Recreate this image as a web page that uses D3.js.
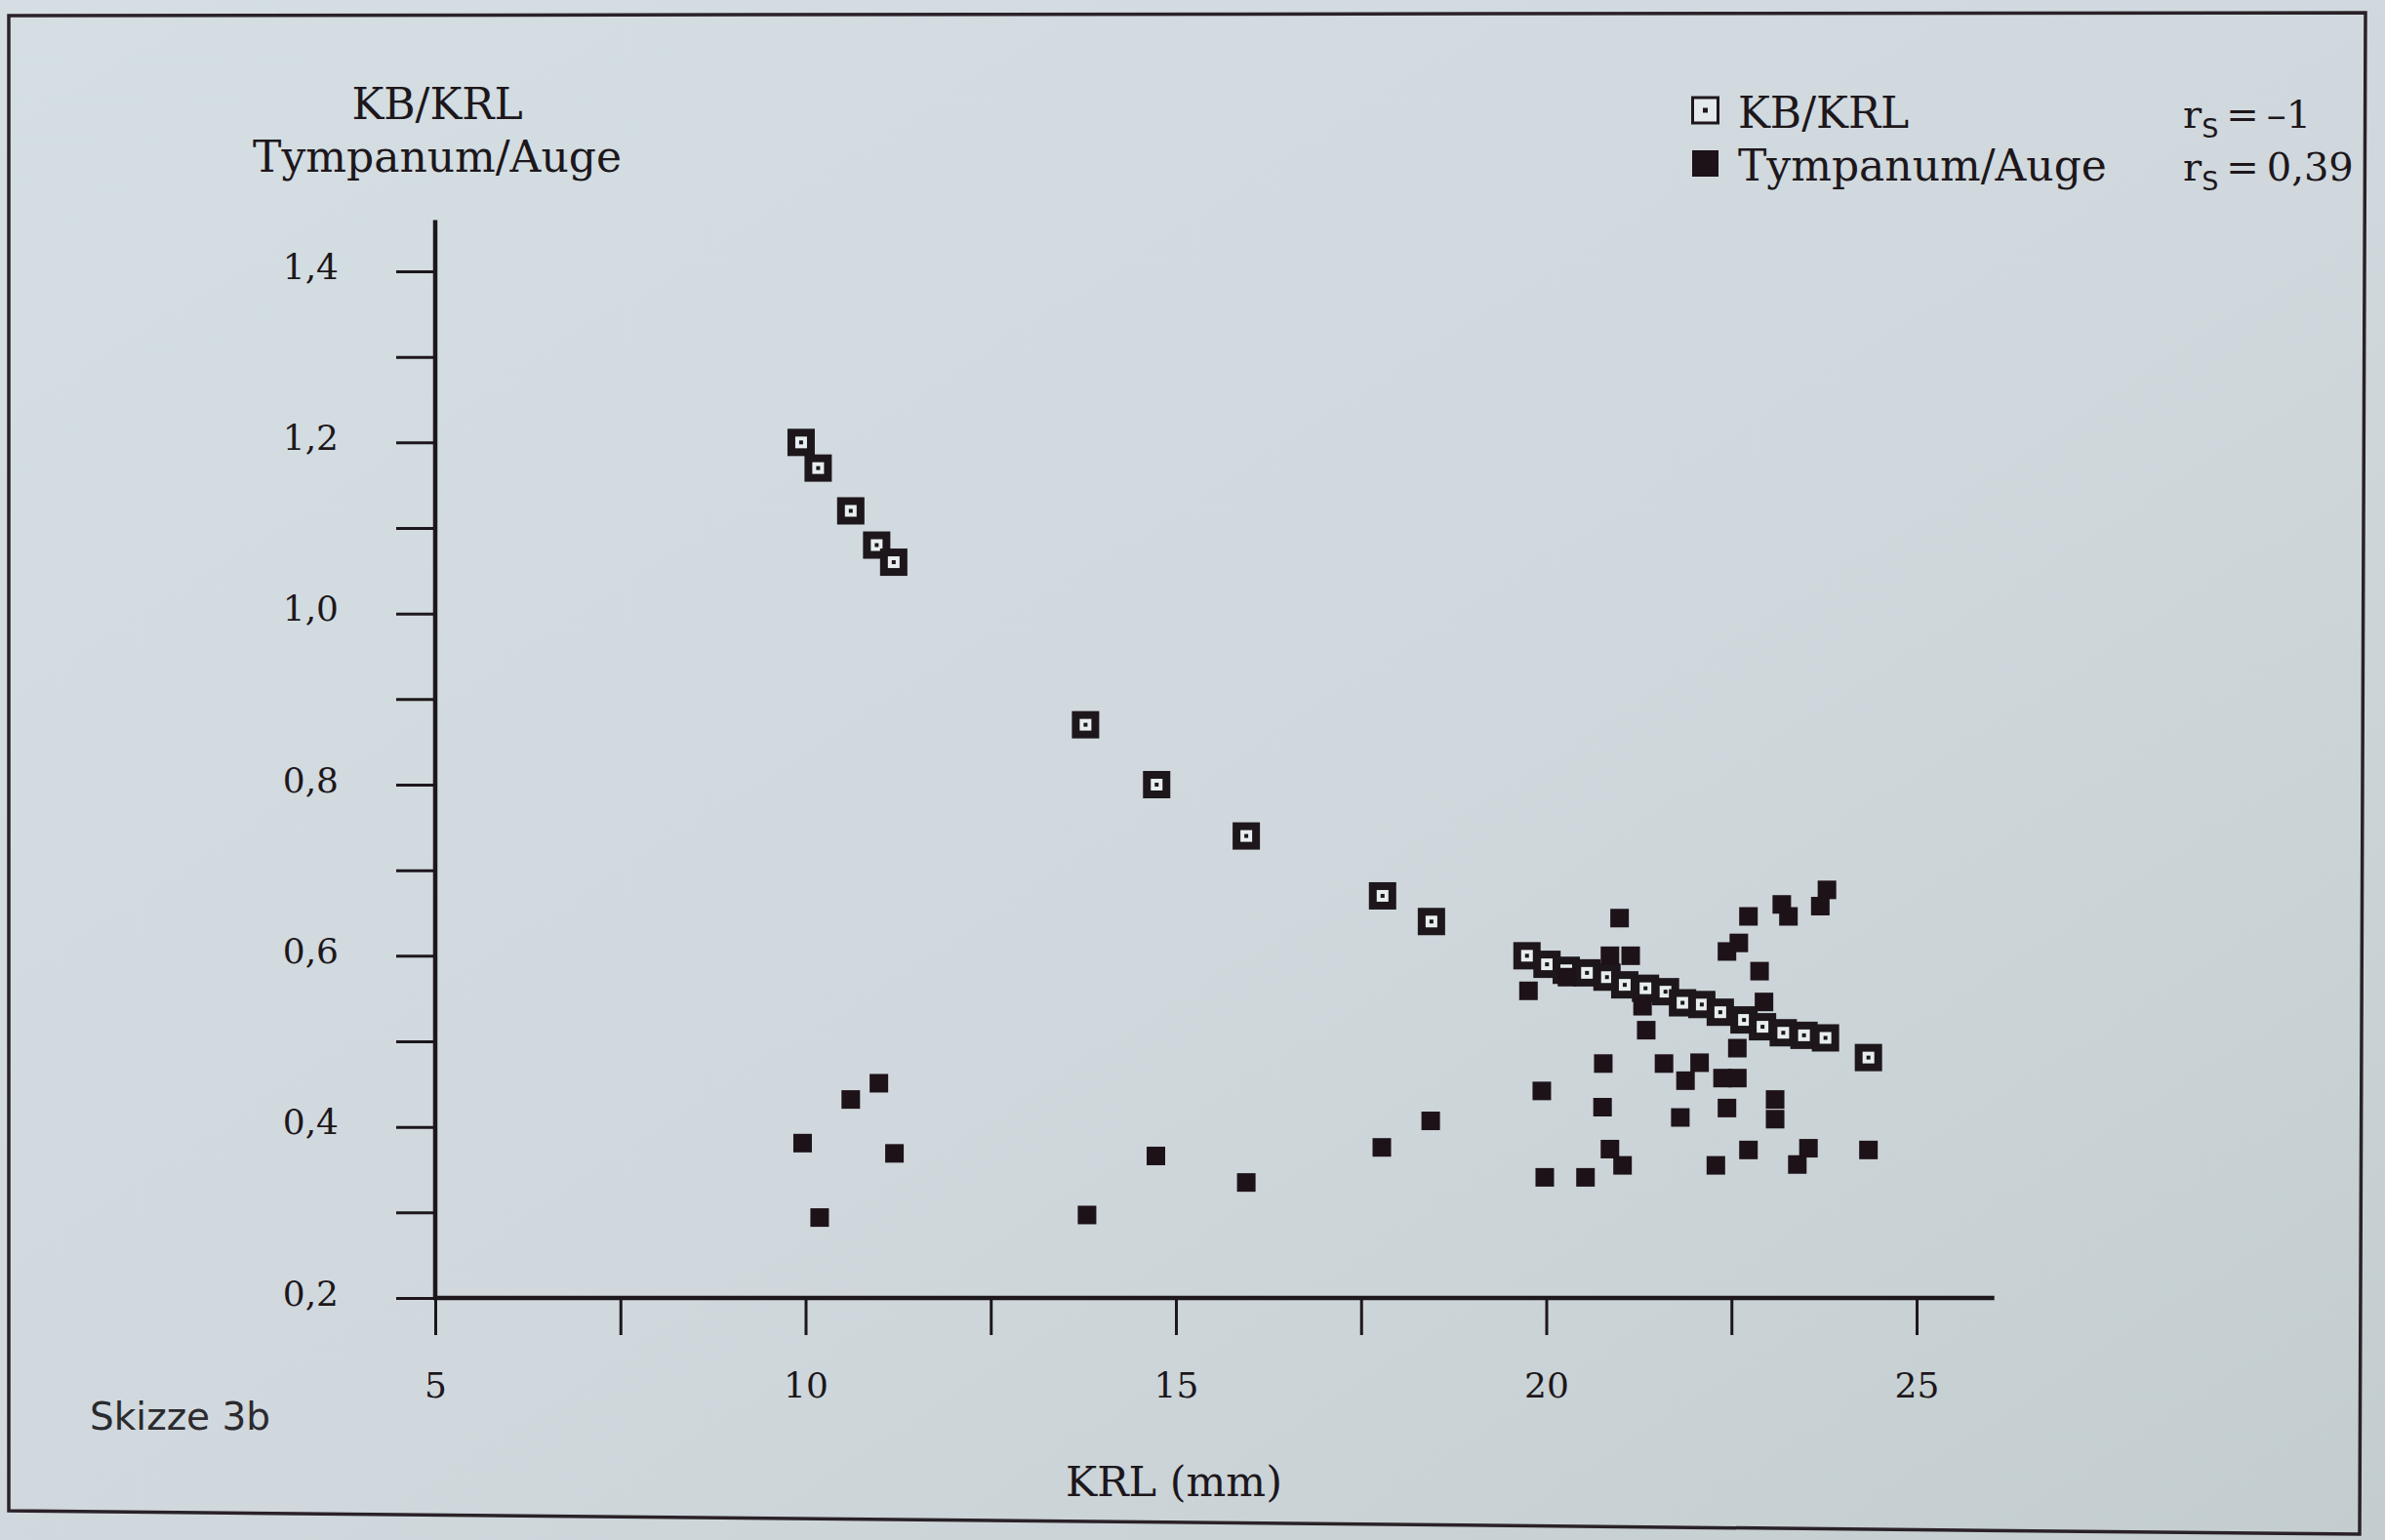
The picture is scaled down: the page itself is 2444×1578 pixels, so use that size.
<!DOCTYPE html>
<html>
<head>
<meta charset="utf-8">
<script src="https://cdn.jsdelivr.net/npm/d3@7"></script>
<style>
  html, body { margin: 0; padding: 0; background: #cdd6da; }
  svg { display: block; }
</style>
</head>
<body>
<svg id="chart" width="2444" height="1578"></svg>
<script>
// KB/KRL (hollow squares)
var kbKrlX = [9.94, 10.17, 10.61, 10.96, 11.19, 13.78, 14.74, 15.95, 17.79, 18.45,
              19.74, 20.01, 20.27, 20.55, 20.82, 21.06, 21.34, 21.61, 21.84, 22.10,
              22.35, 22.67, 22.92, 23.20, 23.48, 23.77, 24.35];
var kbKrlY = [1.20, 1.17, 1.12, 1.08, 1.06, 0.87, 0.80, 0.74, 0.67, 0.64,
              0.60, 0.59, 0.583, 0.58, 0.575, 0.566, 0.562, 0.558, 0.545, 0.543,
              0.534, 0.525, 0.517, 0.510, 0.507, 0.504, 0.481];

// Tympanum/Auge (filled squares)
var tympX = [9.96, 10.61, 10.99, 11.20, 10.19, 13.80, 14.73, 15.95, 17.78, 18.44,
             19.76, 19.94, 19.98, 20.99, 22.73, 23.18, 23.27, 23.79, 23.70, 20.86,
             21.14, 22.44, 22.60, 22.88, 21.35, 22.58, 20.77, 21.59, 22.07, 21.88,
             22.38, 22.58, 20.76, 21.81, 22.44, 23.09, 23.09, 20.86, 21.03, 20.53,
             22.29, 22.73, 23.54, 23.39, 24.35, 20.28, 21.30, 22.94];
var tympY = [0.381, 0.432, 0.451, 0.369, 0.294, 0.297, 0.366, 0.335, 0.376, 0.407,
             0.559, 0.442, 0.341, 0.644, 0.646, 0.660, 0.646, 0.677, 0.658, 0.600,
             0.600, 0.605, 0.615, 0.582, 0.513, 0.492, 0.474, 0.474, 0.475, 0.454,
             0.457, 0.457, 0.423, 0.411, 0.422, 0.432, 0.409, 0.374, 0.355, 0.341,
             0.355, 0.373, 0.375, 0.356, 0.373, 0.575, 0.541, 0.546];

var xTickValues = [5, 7.5, 10, 12.5, 15, 17.5, 20, 22.5, 25];
var xLabelValues = [5, 10, 15, 20, 25];
var yTickValues = [0.2, 0.3, 0.4, 0.5, 0.6, 0.7, 0.8, 0.9, 1.0, 1.1, 1.2, 1.3, 1.4];
var yLabelValues = [0.2, 0.4, 0.6, 0.8, 1.0, 1.2, 1.4];

var legendLabels = ["KB/KRL", "Tympanum/Auge"];
var legendRs = ["\u20131", "0,39"];

var ink = "#1d171b";
var serif = "DejaVu Serif, Liberation Serif, serif";

var svg = d3.select("#chart");

// paper
var grad = svg.append("defs").append("linearGradient")
  .attr("id", "paper").attr("x1", 0).attr("y1", 0).attr("x2", 1).attr("y2", 1);
grad.append("stop").attr("offset", "0%").attr("stop-color", "#d4dee3");
grad.append("stop").attr("offset", "55%").attr("stop-color", "#d0d8dd");
grad.append("stop").attr("offset", "100%").attr("stop-color", "#c3cdcf");

svg.append("rect").attr("width", 2444).attr("height", 1578).attr("fill", "url(#paper)");

// frame round the figure (photo is slightly skewed)
svg.append("path")
  .attr("d", "M9,16 L2424,13 L2418,1572 L9,1548 Z")
  .attr("fill", "none")
  .attr("stroke", "#2a2228")
  .attr("stroke-width", 3.5);

var x = d3.scaleLinear().domain([5, 25]).range([446, 1964]);
var y = d3.scaleLinear().domain([0.2, 1.4]).range([1330, 278]);

var deFormat = d3.formatLocale({decimal: ",", thousands: ".", grouping: [3], currency: ["", "\u20ac"]}).format(".1f");

// y axis
var yAxis = d3.axisLeft(y)
  .tickValues(yTickValues)
  .tickSize(40)
  .tickSizeOuter(0)
  .tickPadding(59)
  .tickFormat(function(d) {
    var show = yLabelValues.some(function(v) { return Math.abs(v - d) < 1e-9; });
    return show ? deFormat(d) : "";
  });

var gy = svg.append("g").attr("transform", "translate(" + x(5) + ",0)").call(yAxis);
gy.select(".domain").remove();
gy.selectAll(".tick line").attr("stroke", ink).attr("stroke-width", 3);
gy.selectAll(".tick text")
  .attr("fill", ink)
  .attr("dy", "0.2em")
  .style("font-family", serif)
  .style("font-size", "36px");

// x axis
var xAxis = d3.axisBottom(x)
  .tickValues(xTickValues)
  .tickSize(38)
  .tickSizeOuter(0)
  .tickPadding(38)
  .tickFormat(function(d) {
    return xLabelValues.indexOf(d) >= 0 ? String(d) : "";
  });

var gx = svg.append("g").attr("transform", "translate(0," + y(0.2) + ")").call(xAxis);
gx.select(".domain").remove();
gx.selectAll(".tick line").attr("stroke", ink).attr("stroke-width", 3);
gx.selectAll(".tick text")
  .attr("fill", ink)
  .style("font-family", serif)
  .style("font-size", "36px");

// axis lines
svg.append("line")
  .attr("x1", x(5)).attr("x2", x(5))
  .attr("y1", y(0.2) + 2).attr("y2", y(1.46))
  .attr("stroke", ink).attr("stroke-width", 4.5);

svg.append("line")
  .attr("x1", x(5) - 2).attr("x2", x(26.05))
  .attr("y1", y(0.2)).attr("y2", y(0.2))
  .attr("stroke", ink).attr("stroke-width", 4.5);

// axis titles
var yTitle = svg.append("text")
  .attr("text-anchor", "middle")
  .attr("fill", ink)
  .style("font-family", serif)
  .style("font-size", "44px");
yTitle.append("tspan").attr("x", 448).attr("y", 122).text("KB/KRL");
yTitle.append("tspan").attr("x", 448).attr("y", 176).text("Tympanum/Auge");

svg.append("text")
  .attr("x", 1203).attr("y", 1533)
  .attr("text-anchor", "middle")
  .attr("fill", ink)
  .style("font-family", serif)
  .style("font-size", "43px")
  .text("KRL (mm)");

svg.append("text")
  .attr("x", 92).attr("y", 1465)
  .attr("fill", "#2b2a2e")
  .style("font-family", "DejaVu Sans, sans-serif")
  .style("font-size", "39px")
  .text("Skizze 3b");

// markers
var hollowSize = 28, hollowInner = 12, dotSize = 4, filledSize = 19;

var kbPoints = kbKrlX.map(function(v, i) { return {x: v, y: kbKrlY[i]}; });
var tympPoints = tympX.map(function(v, i) { return {x: v, y: tympY[i]}; });

var hollow = svg.append("g").selectAll("g")
  .data(kbPoints)
  .enter().append("g")
  .attr("transform", function(d) { return "translate(" + x(d.x) + "," + y(d.y) + ")"; });

hollow.append("rect")
  .attr("x", -hollowSize / 2).attr("y", -hollowSize / 2)
  .attr("width", hollowSize).attr("height", hollowSize)
  .attr("fill", ink);
hollow.append("rect")
  .attr("x", -hollowInner / 2).attr("y", -hollowInner / 2)
  .attr("width", hollowInner).attr("height", hollowInner)
  .attr("fill", "#e8eef0");
hollow.append("rect")
  .attr("x", -dotSize / 2).attr("y", -dotSize / 2)
  .attr("width", dotSize).attr("height", dotSize)
  .attr("fill", ink);

svg.append("g").selectAll("rect")
  .data(tympPoints)
  .enter().append("rect")
  .attr("x", function(d) { return x(d.x) - filledSize / 2; })
  .attr("y", function(d) { return y(d.y) - filledSize / 2; })
  .attr("width", filledSize).attr("height", filledSize)
  .attr("fill", "#1e1219");

// legend
var legend = svg.append("g").attr("transform", "translate(1733,0)");

legend.append("rect")
  .attr("x", 1.5).attr("y", 100)
  .attr("width", 26).attr("height", 26)
  .attr("fill", "#e4eaec")
  .attr("stroke", ink).attr("stroke-width", 3);
legend.append("rect")
  .attr("x", 12).attr("y", 110.5)
  .attr("width", 5).attr("height", 5)
  .attr("fill", ink);
legend.append("rect")
  .attr("x", 1).attr("y", 154)
  .attr("width", 27).attr("height", 27)
  .attr("fill", "#1e1219");

legend.selectAll("text.lab")
  .data(legendLabels)
  .enter().append("text")
  .attr("class", "lab")
  .attr("x", 48)
  .attr("y", function(d, i) { return 131 + i * 54; })
  .attr("fill", ink)
  .style("font-family", serif)
  .style("font-size", "44px")
  .text(function(d) { return d; });

var rs = legend.selectAll("text.rs")
  .data(legendRs)
  .enter().append("text")
  .attr("class", "rs")
  .attr("x", 504)
  .attr("y", function(d, i) { return 131 + i * 54; })
  .attr("fill", ink)
  .style("font-family", serif)
  .style("font-size", "40px");
rs.append("tspan").text("r");
rs.append("tspan")
  .attr("dy", 10)
  .style("font-family", "DejaVu Sans, sans-serif")
  .style("font-size", "27px")
  .text("S");
rs.append("tspan")
  .attr("dy", -10)
  .text(function(d) { return "\u2009=\u2009" + d; });
</script>
</body>
</html>
